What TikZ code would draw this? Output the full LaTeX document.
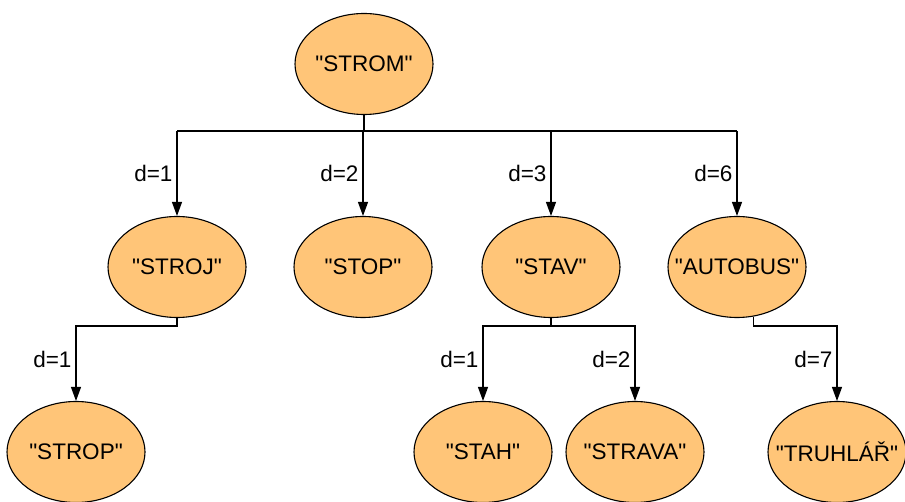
\documentclass[tikz,border=0pt]{standalone}
\usepackage{fontspec}
\setmainfont{Liberation Sans}[Ligatures=TeXOff]
\usetikzlibrary{shapes.geometric,arrows.meta}

\definecolor{oranzova}{RGB}{255,197,120}

\tikzset{
  uzel/.style={ellipse,draw,fill=oranzova,line width=1.1pt,
    minimum width=138pt,minimum height=101pt,inner sep=0pt,
    font=\fontsize{22.5}{26}\selectfont,
    execute at begin node={\hbox to 0pt\bgroup\hss},
    execute at end node={\hss\egroup}},
  hrana/.style={line width=1.1pt,-{Triangle[length=14pt,width=10pt]}},
  vedeni/.style={line width=1.1pt},
  vzd/.style={left,inner sep=4pt,font=\fontsize{22.5}{26}\selectfont}
}

\begin{document}
\begin{tikzpicture}[x=1pt,y=-1pt]

\useasboundingbox (0,0) rectangle (905,502);
\fill[white] (0,0) rectangle (905,502);

% Koren
\node[uzel] (strom) at (364,64) {"STROM"};

% Prvni uroven
\node[uzel] (stroj) at (177,267) {"STROJ"};
\node[uzel] (stop) at (363,267) {"STOP"};
\node[uzel] (stav) at (551,267) {"STAV"};
\node[uzel] (autobus) at (737,267) {"AUTOBUS"};

% Druha uroven
\node[uzel] (strop) at (76,452) {"STROP"};
\node[uzel] (stah) at (483,452) {"STAH"};
\node[uzel] (strava) at (635,452) {"STRAVA"};
\node[uzel] (truhlar) at (837,452) {"TRUHLÁŘ"};

% Hrany z korene
\draw[vedeni] (strom.south) -- ++(0,16) coordinate (rozv1);
\draw[vedeni] (rozv1 -| stroj) -- (rozv1 -| autobus);

\foreach \n/\d in {stroj/1,stop/2,stav/3,autobus/6}
{
\draw[hrana] (rozv1 -| \n) -- node[vzd] {d=\d} (\n.north);
}

% STROJ
\draw[hrana] (stroj.south) -- ++(0,8) -| node[vzd,pos=0.72] {d=1} (strop.north);

% STAV
\draw[vedeni] (stav.south) -- ++(0,8) coordinate (rozv3);
\draw[hrana] (rozv3) -| node[vzd,pos=0.72] {d=1} (stah.north);
\draw[hrana] (rozv3) -| node[vzd,pos=0.72] {d=2} (strava.north);

% AUTOBUS
\draw[hrana] (autobus.-72) -- (autobus.-72 |- rozv3) -| node[vzd,pos=0.72] {d=7} (truhlar.north);

\end{tikzpicture}
\end{document}
